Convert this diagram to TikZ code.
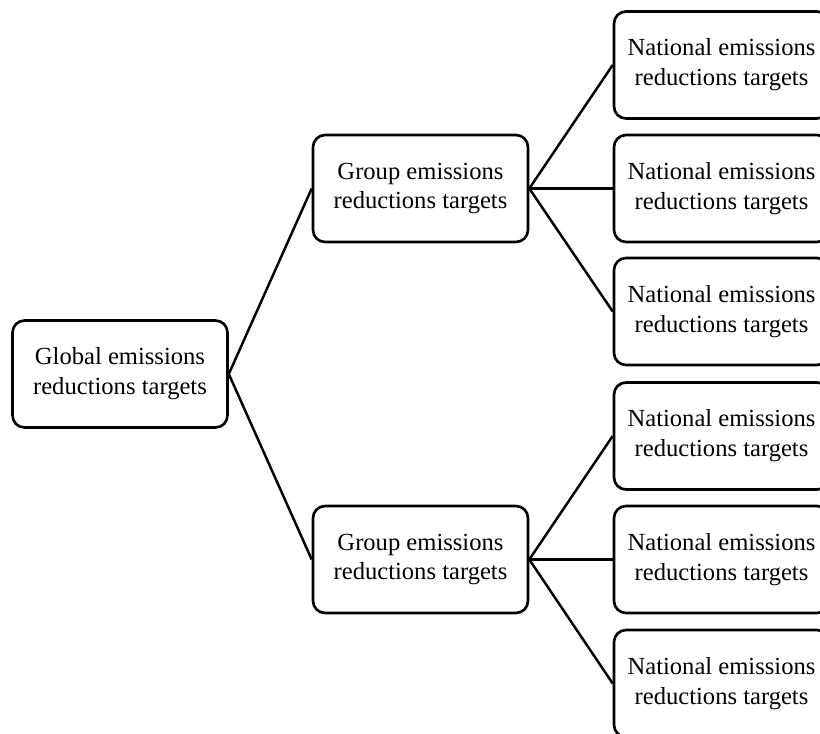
\documentclass[tikz,border=0pt]{standalone}
\usepackage{fontspec}
\setmainfont{Liberation Serif}
\usepackage{tikz}
\usetikzlibrary{positioning}

\begin{document}
\begin{tikzpicture}[
  x=0.02cm, y=-0.02cm,
  target/.style={draw, rounded corners=0.24cm, line width=1.5pt, minimum width=4.3cm, minimum height=2.14cm, align=center, font=\fontsize{14}{17}\selectfont},
  link/.style={line width=1.4pt}
]
  \useasboundingbox (0,0) rectangle (820,733);

  \node[target] (global) at (120,374) {Global emissions\\reductions targets};

  \node[target] (grp1) at (420.5,188.5) {Group emissions\\reductions targets};
  \node[target] (grp2) at (420.5,559.5) {Group emissions\\reductions targets};

  \node[target] (nat11) at (721.5,65) {National emissions\\reductions targets};
  \node[target] (nat12) at (721.5,188.5) {National emissions\\reductions targets};
  \node[target] (nat13) at (721.5,311.5) {National emissions\\reductions targets};
  \node[target] (nat21) at (721.5,436) {National emissions\\reductions targets};
  \node[target] (nat22) at (721.5,559.5) {National emissions\\reductions targets};
  \node[target] (nat23) at (721.5,683.5) {National emissions\\reductions targets};

  \draw[link] (global.east) -- (grp1.west);
  \draw[link] (global.east) -- (grp2.west);
  \draw[link] (grp1.east) -- (nat11.west);
  \draw[link] (grp1.east) -- (nat12.west);
  \draw[link] (grp1.east) -- (nat13.west);
  \draw[link] (grp2.east) -- (nat21.west);
  \draw[link] (grp2.east) -- (nat22.west);
  \draw[link] (grp2.east) -- (nat23.west);
\end{tikzpicture}
\end{document}
